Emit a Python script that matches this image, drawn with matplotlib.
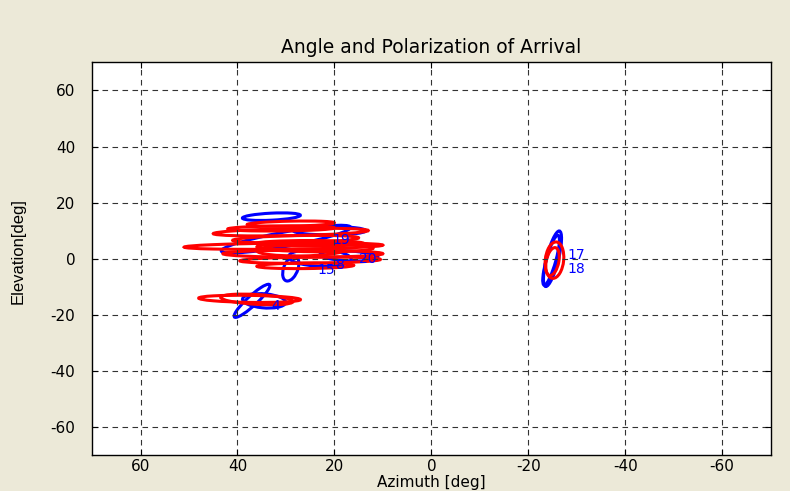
import matplotlib
matplotlib.use("Agg")
import matplotlib.pyplot as plt
from matplotlib.patches import Ellipse

# polarization ellipses: centre (az, el), axes (az / el units), tilt [deg]
blue_az = [33, 30, 23, 29, 21, 17, 37, 34.5, -25, -24.7]
blue_el = [15, 7, 0.3, -3.5, 10, 1, -15, -15, 0, -0.5]
blue_w = [12, 28, 13, 3, 15, 12, 13.7, 9, 2.5, 2]
blue_h = [2.5, 5, 6, 9, 3, 3.5, 2.5, 5, 20, 18]
blue_ang = [-5, -18, 5, 10, 0, 5, 121, 10, 8, 9]

red_az = [30.5, 29, 29, 26.5, 25, 26, 28, 24, 27, 25, 31, 37.5, 36, -25.4, -25]
red_el = [4.5, 9.5, 12.5, 1.8, -0.5, -2.5, 7, 4, 3, 5.5, 10.8, -14.3, -14.5, -0.5, -1]
red_w = [41, 32, 18, 33, 29, 20, 26, 24, 18, 22, 22, 21, 15, 3.8, 2.6]
red_h = [2.2, 2.5, 1.8, 2.5, 2.2, 2, 2.5, 3, 4, 2, 1.8, 2.5, 3.5, 13, 10]
red_ang = [-1, -2, -2, 0, -1, -1, -2, 1, -1, 0, -1, 1.5, 6, 3, 6]

label_text = ["19", "20", "15", "8", "4", "17", "18"]
label_az = [20.5, 15, 23.4, 19.6, 33, -28, -28]
label_el = [6.8, 0, -4, -2.3, -17, 1.3, -3.7]

ticks = [-60, -40, -20, 0, 20, 40, 60]

plt.rcParams["font.family"] = ["DejaVu Sans"]
plt.rcParams["axes.unicode_minus"] = False

fig = plt.figure(figsize=(7.9, 4.91), dpi=100, facecolor="#ECE9D8")
ax = fig.add_axes([0.1165, 0.073, 0.859, 0.8])

for i in range(len(blue_az)):
    ax.add_patch(Ellipse((blue_az[i], blue_el[i]), blue_w[i], blue_h[i],
                         angle=blue_ang[i], fill=False, ec="#0000FF", lw=2.2))
for i in range(len(red_az)):
    ax.add_patch(Ellipse((red_az[i], red_el[i]), red_w[i], red_h[i],
                         angle=red_ang[i], fill=False, ec="#FF0000", lw=2.2))
for t, a, e in zip(label_text, label_az, label_el):
    ax.text(a, e, t, color="#0000FF", fontsize=10, ha="left", va="center")

ax.set_xlim(70, -70)
ax.set_ylim(-70, 70)
ax.set_xticks(ticks)
ax.set_yticks(ticks)
ax.tick_params(direction="in", top=True, right=True, length=4,
               labelsize=11, colors="black")
ax.tick_params(axis="y", pad=12)
ax.tick_params(axis="x", pad=3)
ax.grid(True, color="#333333", ls=(0, (5, 4)), lw=0.8)
for s in ax.spines.values():
    s.set_color("black")
    s.set_linewidth(1)

ax.set_title("Angle and Polarization of Arrival", fontsize=13.5, pad=7)
ax.set_xlabel("Azimuth [deg]", fontsize=11, labelpad=0.5)
ax.set_ylabel("Elevation[deg]", fontsize=12, family="Liberation Sans")
ax.yaxis.set_label_coords(-0.098, 0.52)

fig.savefig("out.png", dpi=100, facecolor=fig.get_facecolor())
